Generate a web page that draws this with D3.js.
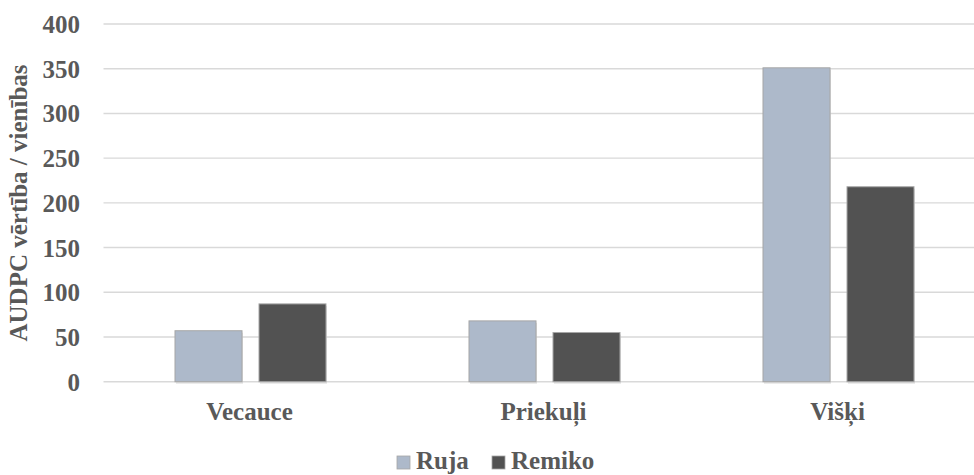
<!DOCTYPE html>
<html>
<head>
<meta charset="utf-8">
<script src="https://cdn.jsdelivr.net/npm/d3@7"></script>
<style>
  html, body { margin: 0; padding: 0; background: #fff; }
  svg { display: block; }
  text { font-family: "Liberation Serif", "Times New Roman", serif; font-weight: bold; fill: #595959; }
</style>
</head>
<body>
<script>
const categories = ["Vecauce", "Priekuļi", "Višķi"];
const seriesNames = ["Ruja", "Remiko"];
const rujaValues = [57, 68, 351];
const remikoValues = [87, 55, 218];
const yTicks = [0, 50, 100, 150, 200, 250, 300, 350, 400];
const colors = ["#adb9ca", "#525252"];
const yTitle = "AUDPC vērtība / vienības";

const W = 974, H = 475;
const svg = d3.select("body").append("svg").attr("width", W).attr("height", H);

const plotLeft = 103.5, plotRight = 985.5, plotTop = 24, plotBottom = 381.7;

const y = d3.scaleLinear().domain([0, 400]).range([plotBottom, plotTop]);
const x0 = d3.scaleBand().domain(categories).range([plotLeft, plotRight]).padding(0);
const x1 = d3.scaleBand().domain(seriesNames).range([71.5, 222.5]).paddingInner(17 / 84).paddingOuter(0);

// gridlines
svg.append("g").selectAll("line").data(yTicks).join("line")
  .attr("x1", plotLeft).attr("x2", W)
  .attr("y1", d => y(d)).attr("y2", d => y(d))
  .attr("stroke", "#d9d9d9").attr("stroke-width", 1.4);

// y axis labels
const yAxis = d3.axisLeft(y).tickValues(yTicks).tickSize(0).tickPadding(0);
const ga = svg.append("g").attr("transform", "translate(80,0)").call(yAxis);
ga.select(".domain").remove();
ga.selectAll("text").attr("font-size", 25).attr("font-family", "Liberation Serif").attr("font-weight", "bold").attr("fill", "#595959").attr("dy", "0.34em");

// bars
const data = categories.map((c, i) => ({ cat: c, vals: [
  { s: "Ruja", v: rujaValues[i], c: colors[0] },
  { s: "Remiko", v: remikoValues[i], c: colors[1] }
]}));

const groups = svg.append("g").selectAll("g").data(data).join("g")
  .attr("transform", d => `translate(${x0(d.cat)},0)`);

// subtle shadows
groups.selectAll("rect.shadow").data(d => d.vals).join("rect").attr("class", "shadow")
  .attr("x", d => x1(d.s) + 1).attr("y", d => y(d.v) + 2)
  .attr("width", x1.bandwidth()).attr("height", d => y(0) - y(d.v))
  .attr("fill", "#d0d0d0").attr("opacity", 0.6);

groups.selectAll("rect.bar").data(d => d.vals).join("rect").attr("class", "bar")
  .attr("x", d => x1(d.s)).attr("y", d => y(d.v))
  .attr("width", x1.bandwidth()).attr("height", d => y(0) - y(d.v))
  .attr("fill", d => d.c).attr("stroke", "#a6a6a6").attr("stroke-width", 1);

// category labels
svg.append("g").selectAll("text").data(categories).join("text")
  .attr("x", d => x0(d) + x0.bandwidth() / 2 - 1)
  .attr("y", 420)
  .attr("text-anchor", "middle").attr("font-size", 25)
  .text(d => d);

// y title
svg.append("text")
  .attr("transform", "translate(27,203) rotate(-90)")
  .attr("text-anchor", "middle").attr("font-size", 25)
  .text(yTitle);

// legend
const legend = svg.append("g");
const legX = [397, 492];
seriesNames.forEach((s, i) => {
  legend.append("rect").attr("x", legX[i]).attr("y", 456).attr("width", 13).attr("height", 13)
    .attr("fill", colors[i]).attr("stroke", "#a6a6a6").attr("stroke-width", 0.8);
  legend.append("text").attr("x", legX[i] + 19).attr("y", 468.5).attr("font-size", 25).text(s);
});
</script>
</body>
</html>
